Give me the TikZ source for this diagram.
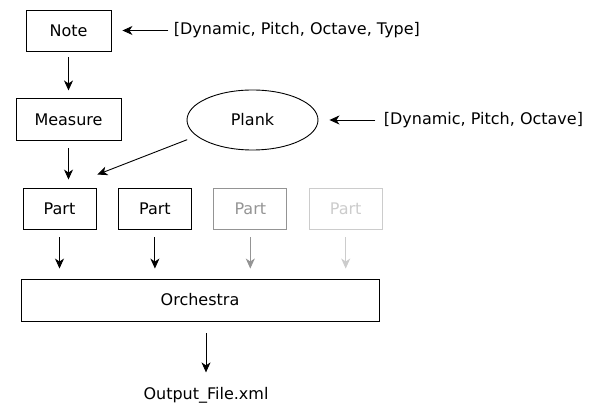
\documentclass[tikz,border=0pt]{standalone}
\usepackage{fontspec}
\setmainfont{DejaVu Sans}
\usetikzlibrary{positioning,shapes.geometric,arrows.meta}

\begin{document}
\begin{tikzpicture}[x=1pt, y=1pt, line width=0.9pt,
	every node/.style={font=\fontsize{16}{19}\selectfont},
	box/.style={draw, rectangle, minimum height=41pt},
	arr/.style={-{Stealth[length=10pt, width=9pt, inset=3pt]}},
	fields/.style={inner sep=0pt, anchor=west}]
\useasboundingbox (0,0) rectangle (615,406);
% nodes
\node [box, minimum width=85pt] (note) at (68.5,375.5) {Note};
\node [fields, right=62pt of note] (notefields) {[Dynamic, Pitch, Octave, Type]};
\node [box, minimum width=105pt, minimum height=42pt, below=47pt of note] (measure) {Measure};
\node [draw, ellipse, minimum width=131pt, minimum height=60pt, inner sep=0pt] (plank) at (252.5,286) {Plank};
\node [fields, right=65pt of plank] (plankfields) {[Dynamic, Pitch, Octave]};
\node [box, minimum width=73pt] (part1) at (59.5,197.5) {Part};
\node [box, minimum width=73pt, right=21.5pt of part1] (part2) {Part};
\node [box, minimum width=73pt, right=21.5pt of part2, black!42] (part3) {Part};
\node [box, minimum width=73pt, right=21.5pt of part3, black!20] (part4) {Part};
\node [box, minimum width=358pt, minimum height=42pt] (orchestra) at (200,106) {Orchestra};
\node [inner sep=0pt, anchor=base] (output) at (206,6) {Output\_File.xml};
\coordinate (planktip) at ([shift={(1pt,13pt)}]part1.north east);
% arrows
\draw
	(notefields.west) edge[arr, shorten <=5pt, shorten >=11pt] (note.east)
	(plankfields.west) edge[arr, shorten <=8pt, shorten >=11pt] (plank.east)
	(note) edge[arr, shorten <=6pt, shorten >=8pt] (measure)
	(measure.south) edge[arr, shorten <=7pt, shorten >=8pt] (measure.south |- part1.north)
	(plank.196) edge[arr, shorten <=10pt] (planktip)
	(part1) edge[arr, shorten <=8pt, shorten >=10pt] (part1 |- orchestra.north)
	(part2) edge[arr, shorten <=8pt, shorten >=10pt] (part2 |- orchestra.north)
	(part3) edge[arr, black!42, shorten <=8pt, shorten >=10pt] (part3 |- orchestra.north)
	(part4) edge[arr, black!20, shorten <=8pt, shorten >=10pt] (part4 |- orchestra.north)
	(output |- orchestra.south) edge[arr, shorten <=12pt, shorten >=15pt] (output.north);
\end{tikzpicture}
\end{document}
